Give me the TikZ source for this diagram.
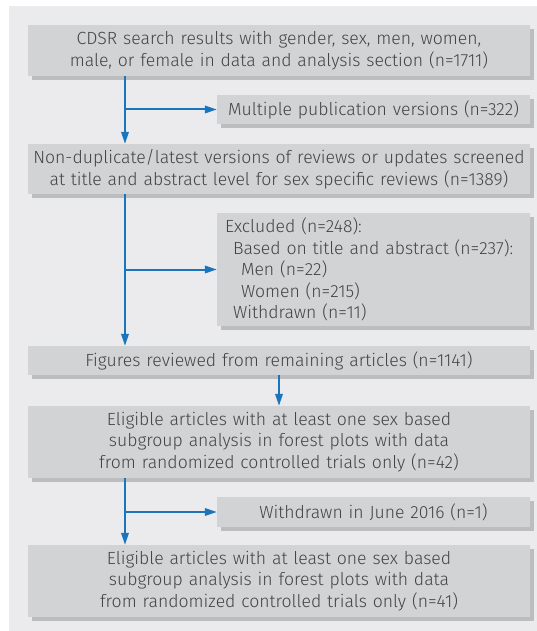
\documentclass[tikz,border=0pt]{standalone}
\usepackage{fontspec}
\setmainfont{Fira Sans Light}
\usetikzlibrary{arrows.meta,shadows}
\definecolor{panel}{HTML}{EBEBED}
\definecolor{boxfill}{HTML}{D2D3D5}
\definecolor{boxshadow}{HTML}{BCBDBF}
\definecolor{txt}{HTML}{444446}
\definecolor{arrblue}{HTML}{1B75BC}
\begin{document}
\begin{tikzpicture}[x=1pt,y=-1pt,
  flowbox/.style={fill=boxfill, draw=none, inner sep=0pt, align=center, text=txt,
    font=\fontsize{17.6}{21.5}\selectfont,
    drop shadow={shadow xshift=4pt, shadow yshift=-4pt, fill=boxshadow, opacity=1}},
  widebox/.style={flowbox, text width=502pt, minimum height=#1},
  sidebox/.style={flowbox, text width=313pt, minimum height=#1},
  arr/.style={draw=arrblue, line width=2pt, -{Triangle[length=12pt,width=7.5pt]}}]
\useasboundingbox (0,0) rectangle (537,631);
\fill[panel] (9,6) rectangle (537,631);
\coordinate (sp) at (125,0);
\node[widebox=51pt] (b1) at (279,50.5) {CDSR search results with gender, sex, men, women,\\male, or female in data and analysis section (n=1711)};
\node[sidebox=29pt] (b2) at (373.5,109.5) {Multiple publication versions (n=322)};
\node[widebox=50pt] (b3) at (279,169) {Non-duplicate/latest versions of reviews or updates screened\\at title and abstract level for sex specific reviews (n=1389)};
\node[flowbox, align=left, text width=297pt, inner xsep=8pt, minimum height=113pt] (b4) at (373.5,269.5) {Excluded (n=248):\\\hspace*{8pt}Based on title and abstract (n=237):\\\hspace*{16pt}Men (n=22)\\\hspace*{16pt}Women (n=215)\\\hspace*{8pt}Withdrawn (n=11)};
\node[widebox=29pt] (b5) at (279,360.5) {Figures reviewed from remaining articles (n=1141)};
\node[widebox=72pt] (b6) at (279,442) {Eligible articles with at least one sex based\\subgroup analysis in forest plots with data\\from randomized controlled trials only (n=42)};
\node[sidebox=30pt] (b7) at (373.5,512) {Withdrawn in June 2016 (n=1)};
\node[widebox=72pt] (b8) at (279,581) {Eligible articles with at least one sex based\\subgroup analysis in forest plots with data\\from randomized controlled trials only (n=41)};
\draw[arr] (b1.south -| sp) -- (b3.north -| sp);
\draw[arr] (b2.west -| sp) -- (b2.west);
\draw[arr] (b3.south -| sp) -- (b5.north -| sp);
\draw[arr] (b4.west -| sp) -- (b4.west);
\draw[arr] (b5.south) -- (b6.north);
\draw[arr] (b6.south -| sp) -- (b8.north -| sp);
\draw[arr] (b7.west -| sp) -- (b7.west);
\end{tikzpicture}
\end{document}
